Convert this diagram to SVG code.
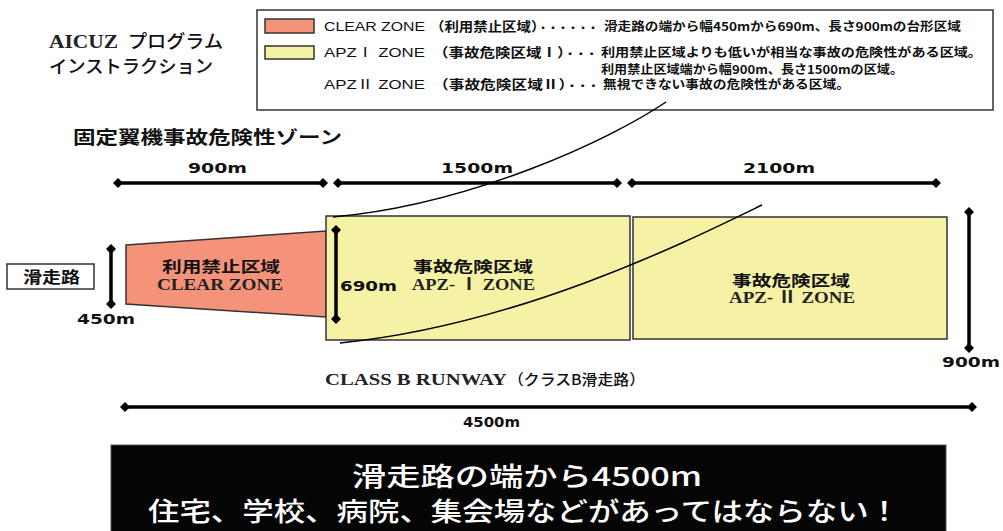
<svg xmlns="http://www.w3.org/2000/svg" width="1003" height="531" viewBox="0 0 1003 531">
<defs>
<marker id="dm" viewBox="0 0 10 10" refX="5" refY="5" markerWidth="11" markerHeight="10" markerUnits="userSpaceOnUse" orient="auto">
<path d="M0,5 L5,0 L10,5 L5,10 Z" fill="#000"/>
</marker>
<style>
.jp{font-family:"Noto Sans CJK JP",sans-serif;font-weight:bold;fill:#111}
.jpr{font-family:"Noto Sans CJK JP",sans-serif;font-weight:500;fill:#111}
.lat{font-family:"Liberation Sans","Noto Sans CJK JP",sans-serif;fill:#111}
.ser{font-family:"Liberation Serif","Noto Sans CJK JP",serif;fill:#222}
.dim{font-family:"DejaVu Sans",sans-serif;font-weight:bold;font-size:14px;fill:#111}
.dl{stroke:#000;stroke-width:3.5;fill:none;marker-start:url(#dm);marker-end:url(#dm)}
.zone{stroke:#333;stroke-width:1.5}
.red{fill:#f4937a}
.yel{fill:#f6f2a5}
.cv{fill:none;stroke:#000;stroke-width:1.5}
.wt{font-family:"Noto Sans CJK JP",sans-serif;font-weight:500;fill:#fff;font-size:26px}
.dt{font-size:9px;font-weight:900}
</style>
</defs>
<rect width="1003" height="531" fill="#fff"/>

<g id="title">
<text class="ser" x="49" y="48" font-size="19" font-weight="bold" textLength="69" lengthAdjust="spacingAndGlyphs">AICUZ</text>
<text class="jpr" x="128" y="48" font-size="18" textLength="95" lengthAdjust="spacingAndGlyphs">プログラム</text>
<text class="jpr" x="49" y="73" font-size="18" textLength="164" lengthAdjust="spacingAndGlyphs">インストラクション</text>
</g>

<g id="subtitle">
<text class="jp" x="73" y="144" font-size="18" textLength="269" lengthAdjust="spacingAndGlyphs">固定翼機事故危険性ゾーン</text>
</g>

<g id="legend">
<rect x="257" y="10" width="736" height="100" fill="#fff" stroke="#333" stroke-width="1.5"/>
<rect class="red" x="265" y="19" width="49" height="14" stroke="#333" stroke-width="1.5"/>
<rect class="yel" x="265" y="46" width="49" height="13" stroke="#333" stroke-width="1.5"/>
<text class="lat" x="324" y="31" font-size="13" textLength="101" lengthAdjust="spacingAndGlyphs">CLEAR ZONE</text>
<text class="jp" x="430" y="31" font-size="13" textLength="168" lengthAdjust="spacingAndGlyphs">（利用禁止区域）<tspan class="dt">・・・・・・</tspan></text>
<text class="jp" x="604" y="31" font-size="12" textLength="357" lengthAdjust="spacingAndGlyphs">滑走路の端から幅450mから690m、長さ900mの台形区域</text>

<text class="lat" x="324" y="57" font-size="13" textLength="101" lengthAdjust="spacingAndGlyphs">APZⅠ ZONE</text>
<text class="jp" x="433" y="57" font-size="13" textLength="164" lengthAdjust="spacingAndGlyphs">（事故危険区域Ⅰ）<tspan class="dt">・・・</tspan></text>
<text class="jp" x="601" y="57" font-size="12" textLength="381" lengthAdjust="spacingAndGlyphs">利用禁止区域よりも低いが相当な事故の危険性がある区域。</text>
<text class="jp" x="601" y="74" font-size="12" textLength="302" lengthAdjust="spacingAndGlyphs">利用禁止区域端から幅900m、長さ1500mの区域。</text>

<text class="lat" x="324" y="89" font-size="13" textLength="101" lengthAdjust="spacingAndGlyphs">APZⅡ ZONE</text>
<text class="jp" x="433" y="89" font-size="13" textLength="166" lengthAdjust="spacingAndGlyphs">（事故危険区域Ⅱ）<tspan class="dt">・・・</tspan></text>
<text class="jp" x="603" y="89" font-size="12" textLength="247" lengthAdjust="spacingAndGlyphs">無視できない事故の危険性がある区域。</text>
</g>

<g id="runway">
<rect x="7" y="264" width="87" height="25" fill="#fff" stroke="#333" stroke-width="1.5"/>
<text class="jp" x="23" y="283" font-size="16" textLength="57" lengthAdjust="spacingAndGlyphs">滑走路</text>
</g>

<g id="clear-zone">
<polygon class="zone red" points="126,245 326,231 326,317 126,304"/>
<text class="jp" x="162" y="272" font-size="15" textLength="118" lengthAdjust="spacingAndGlyphs">利用禁止区域</text>
<text class="ser" x="157" y="290" font-size="17" font-weight="bold" textLength="126" lengthAdjust="spacingAndGlyphs">CLEAR ZONE</text>
</g>

<g id="apz1">
<rect class="zone yel" x="326" y="216" width="304" height="124"/>
<text class="jp" x="413" y="272" font-size="15" textLength="120" lengthAdjust="spacingAndGlyphs">事故危険区域</text>
<text class="ser" x="412" y="290" font-size="17" font-weight="bold" textLength="123" lengthAdjust="spacingAndGlyphs">APZ- Ⅰ ZONE</text>
</g>

<g id="apz2">
<rect class="zone yel" x="633" y="217" width="314" height="122"/>
<text class="jp" x="732" y="286" font-size="15" textLength="118" lengthAdjust="spacingAndGlyphs">事故危険区域</text>
<text class="ser" x="729" y="303" font-size="17" font-weight="bold" textLength="126" lengthAdjust="spacingAndGlyphs">APZ- Ⅱ ZONE</text>
</g>

<g id="dimensions">
<line class="dl" x1="118" y1="183" x2="323" y2="183"/>
<line class="dl" x1="338" y1="183" x2="617" y2="183"/>
<line class="dl" x1="632" y1="183" x2="936" y2="183"/>
<text class="dim" x="188" y="173" textLength="59" lengthAdjust="spacingAndGlyphs">900m</text>
<text class="dim" x="441" y="173" textLength="72" lengthAdjust="spacingAndGlyphs">1500m</text>
<text class="dim" x="743" y="173" textLength="72" lengthAdjust="spacingAndGlyphs">2100m</text>
<line class="dl" x1="111" y1="249" x2="111" y2="304" stroke-width="4"/>
<text class="dim" x="77" y="324" textLength="58" lengthAdjust="spacingAndGlyphs">450m</text>
<line class="dl" x1="336" y1="230" x2="336" y2="319" stroke-width="4"/>
<text class="dim" x="340" y="291" textLength="57" lengthAdjust="spacingAndGlyphs">690m</text>
<line class="dl" x1="969" y1="212" x2="969" y2="348" stroke-width="4"/>
<text class="dim" x="942" y="367" textLength="58" lengthAdjust="spacingAndGlyphs">900m</text>
<line class="dl" x1="125" y1="407" x2="972" y2="407"/>
<text class="dim" x="463" y="427" textLength="57" lengthAdjust="spacingAndGlyphs">4500m</text>
</g>

<g id="runway-label">
<text class="ser" x="325" y="385" font-size="16" font-weight="bold" textLength="182" lengthAdjust="spacingAndGlyphs">CLASS B RUNWAY</text>
<text class="jpr" x="508" y="385" font-size="15" textLength="137" lengthAdjust="spacingAndGlyphs">（クラスB滑走路）</text>
</g>

<g id="connectors">
<path class="cv" d="M666,102 C610,140 470,205 333,217"/>
<path class="cv" d="M762,205 C690,240 520,325 340,343"/>
</g>

<g id="warning">
<rect x="111" y="445" width="835" height="90" fill="#050505" stroke="#555" stroke-width="1"/>
<text class="wt" x="352" y="486" textLength="350" lengthAdjust="spacingAndGlyphs">滑走路の端から4500m</text>
<text class="wt" x="148" y="521" textLength="752" lengthAdjust="spacingAndGlyphs">住宅、学校、病院、集会場などがあってはならない！</text>
</g>
</svg>
